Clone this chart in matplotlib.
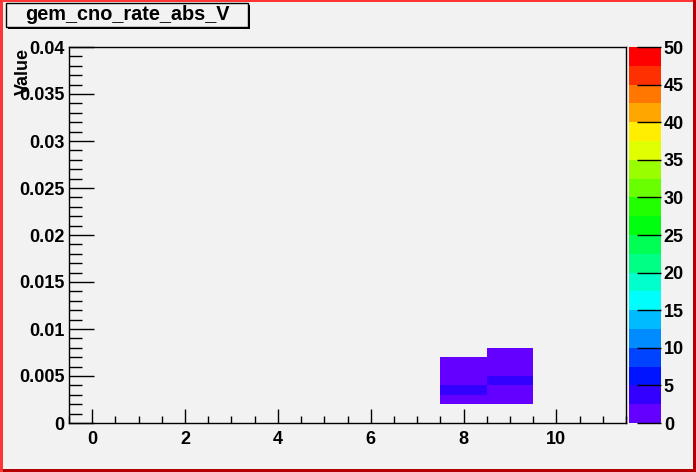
import colorsys
import numpy as np
import matplotlib
matplotlib.use("Agg")
import matplotlib.pyplot as plt
from matplotlib.colors import ListedColormap, BoundaryNorm
from matplotlib.patches import Rectangle
from matplotlib.ticker import MultipleLocator, FuncFormatter

# --- datos ---
titulo = "gem_cno_rate_abs_V"
x_edges = np.arange(-0.5, 12.0, 1.0)          # 12 bins, centros 0..11
y_edges = np.arange(0.0, 0.0401, 0.001)       # bins de 0.001
# contenido por columna: primer bin en y = 0.002
col_x = [8, 9]
col_y0 = [0.002, 0.002]
col_counts = [
    [1, 3, 1, 1, 1],
    [1, 1, 3, 1, 1, 1],
]
z_levels = np.linspace(0, 50, 21)

W, H = 696, 472
BG = "#f2f2f2"
FONT = "Liberation Sans"

# paleta tipo ROOT (pretty palette, 50 colores muestreados en 20 niveles)
colores = []
for k in range(20):
    ci = int((k + 0.99) * 50 / 20)
    hue = 280 - (ci + 1) * 5.6
    colores.append(colorsys.hls_to_rgb(hue / 360.0, 0.5, 1.0))
cmap = ListedColormap(colores)
norm = BoundaryNorm(z_levels, cmap.N)

# matriz del histograma
hist = np.zeros((len(y_edges) - 1, len(x_edges) - 1))
for xc, y0, cts in zip(col_x, col_y0, col_counts):
    ix = int(round(xc - x_edges[0] - 0.5))
    iy0 = int(round(y0 / 0.001))
    for j, c in enumerate(cts):
        hist[iy0 + j, ix] = c
hist = np.ma.masked_equal(hist, 0)

plt.rcParams["font.family"] = [FONT, "DejaVu Sans"]
plt.rcParams["font.weight"] = "bold"

fig = plt.figure(figsize=(W / 100, H / 100), dpi=100, facecolor=BG)

def fx(px):
    return px / W

def fy(py):
    return 1 - py / H

ax = fig.add_axes([fx(69), fy(423), fx(626 - 69), (423 - 47) / H])
ax.set_facecolor(BG)
mesh = ax.pcolormesh(x_edges, y_edges, hist, cmap=cmap, norm=norm)
ax.set_xlim(-0.5, 11.5)
ax.set_ylim(0, 0.04)

ax.xaxis.set_major_locator(MultipleLocator(2))
ax.xaxis.set_minor_locator(MultipleLocator(0.5))
ax.yaxis.set_major_locator(MultipleLocator(0.005))
ax.yaxis.set_minor_locator(MultipleLocator(0.001))
ax.yaxis.set_major_formatter(FuncFormatter(lambda v, p: "%g" % round(v, 4)))
ax.tick_params(axis="x", which="major", direction="in", length=10, width=1,
               labelsize=13, pad=6, top=False)
ax.tick_params(axis="x", which="minor", direction="in", length=5, width=1, top=False)
ax.tick_params(axis="y", which="major", direction="in", length=18, width=1,
               labelsize=13, pad=3, right=False)
ax.tick_params(axis="y", which="minor", direction="in", length=9, width=1, right=False)
for lab in ax.get_xticklabels() + ax.get_yticklabels():
    lab.set_fontweight("bold")
for s in ax.spines.values():
    s.set_linewidth(1)

fig.text(fx(23), fy(48), "Value", rotation=90, ha="center", va="top",
         fontsize=13, fontweight="bold")

# paleta de colores
cax = fig.add_axes([fx(629), fy(423), fx(32), (423 - 47) / H])
cb = fig.colorbar(mesh, cax=cax, ticks=np.arange(0, 51, 5))
cb.outline.set_visible(False)
cax.tick_params(which="major", direction="in", length=17, width=1,
                labelsize=13, pad=2, right=True, left=False)
cax.minorticks_off()
for lab in cax.get_yticklabels():
    lab.set_fontweight("bold")

# caja del titulo
fig.patches.append(Rectangle((fx(8), fy(29)), fx(242), (29 - 5) / H,
                             transform=fig.transFigure, facecolor="black",
                             edgecolor="none", zorder=4))
fig.patches.append(Rectangle((fx(6), fy(27)), fx(242), (27 - 3) / H,
                             transform=fig.transFigure, facecolor=BG,
                             edgecolor="black", linewidth=1, zorder=5))
fig.text(fx(127), fy(15), titulo, ha="center", va="center",
         fontsize=14.3, fontweight="bold", zorder=6)

# borde del canvas
fig.patches.append(Rectangle((0, 0), fx(3), 1, transform=fig.transFigure,
                             facecolor="#ff3434", edgecolor="none", zorder=10))
fig.patches.append(Rectangle((0, fy(2)), 1, 2 / H, transform=fig.transFigure,
                             facecolor="#ff3434", edgecolor="none", zorder=10))
fig.patches.append(Rectangle((fx(693), 0), fx(3), 1, transform=fig.transFigure,
                             facecolor="#b40000", edgecolor="none", zorder=11))
fig.patches.append(Rectangle((fx(3), 0), 1, 3 / H, transform=fig.transFigure,
                             facecolor="#b40000", edgecolor="none", zorder=11))

fig.savefig("out.png", dpi=100, facecolor=BG)
